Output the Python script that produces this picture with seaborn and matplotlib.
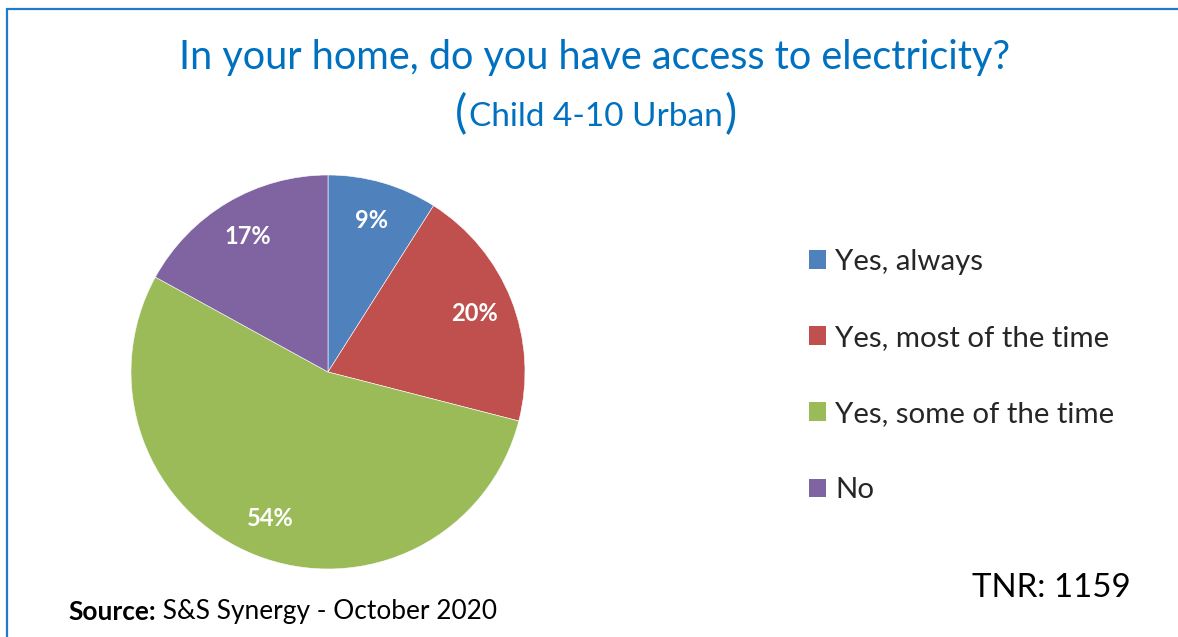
import matplotlib
matplotlib.use("Agg")
import matplotlib.pyplot as plt
from matplotlib.lines import Line2D
from matplotlib.patches import Patch
import seaborn as sns

# Survey answers and their shares (%)
categories = ["Yes, always", "Yes, most of the time", "Yes, some of the time", "No"]
shares = [9, 20, 54, 17]
colors = ["#4F81BD", "#C0504D", "#9BBB59", "#8064A2"]

title_text = "In your home, do you have access to electricity?"
subtitle_text = "Child 4-10 Urban"
source_bold = "Source:"
source_rest = " S&S Synergy - October 2020"
tnr_text = "TNR: 1159"

sns.set_theme(style="white")
plt.rcParams["font.family"] = ["Lato", "DejaVu Sans"]

W, H = 1178, 637
fig = plt.figure(figsize=(W / 100, H / 100), dpi=100)
fig.patch.set_facecolor("white")

# Pie: centre and radius in pixels
cx, cy, r = 328, 372, 197
ax = fig.add_axes([(cx - r) / W, (H - cy - r) / H, 2 * r / W, 2 * r / H])
palette = sns.color_palette(colors)
wedges, texts, autotexts = ax.pie(
    shares, colors=palette, startangle=90, counterclock=False, radius=1,
    autopct="%d%%", pctdistance=0.8,
    wedgeprops=dict(edgecolor="white", linewidth=0.4),
    textprops=dict(color="white", fontsize=17, fontweight="bold"),
)
ax.set_xlim(-1, 1)
ax.set_ylim(-1, 1)
ax.set_aspect("equal")
ax.axis("off")

# Frame lines along the top and left edges
blue = "#0070C0"
fig.add_artist(Line2D([7 / W, 1.0], [1 - 9 / H, 1 - 9 / H], transform=fig.transFigure,
                      color="#1F7BC8", linewidth=1.6))
fig.add_artist(Line2D([7 / W, 7 / W], [1 - 9 / H, 0.0], transform=fig.transFigure,
                      color="#1F7BC8", linewidth=1.6))

# Title
fig.text(595 / W, 1 - 58 / H, title_text, ha="center", va="center",
         color=blue, fontsize=28.5)

# Subtitle with tall parentheses
sub = fig.text(596 / W, 1 - 117 / H, subtitle_text, ha="center", va="center",
               color=blue, fontsize=24)
fig.canvas.draw()
rend = fig.canvas.get_renderer()
bb = sub.get_window_extent(rend)
fig.text((bb.x0 - 2) / W, 1 - 115 / H, "(", ha="right", va="center",
         color=blue, fontsize=33)
fig.text((bb.x1 + 2) / W, 1 - 115 / H, ")", ha="left", va="center",
         color=blue, fontsize=33)

# Legend
handles = [Patch(facecolor=c, edgecolor="none") for c in palette]
fig.legend(handles, categories, loc="center left",
           bbox_to_anchor=(809 / W, 1 - 376 / H), frameon=False,
           fontsize=21.2, handlelength=0.58, handleheight=0.58,
           handletextpad=0.3, labelspacing=1.70, borderpad=0, borderaxespad=0)

# Source note
src = fig.text(68 / W, 1 - 612 / H, source_bold, ha="left", va="center",
               fontsize=18.9, fontweight="bold", color="black")
fig.canvas.draw()
bb2 = src.get_window_extent(fig.canvas.get_renderer())
fig.text(bb2.x1 / W, 1 - 612 / H, source_rest, ha="left", va="center",
         fontsize=18.9, color="black")

# Sample size
fig.text(1131 / W, 1 - 588 / H, tnr_text, ha="right", va="center",
         fontsize=23.8, color="black")

fig.savefig("out.png", dpi=100, facecolor="white")
